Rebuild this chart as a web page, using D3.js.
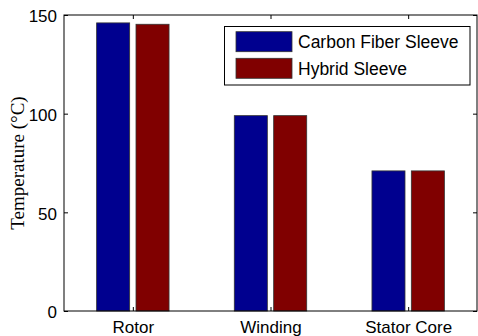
<!DOCTYPE html>
<html>
<head>
<meta charset="utf-8">
<script src="https://cdn.jsdelivr.net/npm/d3@7"></script>
<style>
  html, body { margin: 0; padding: 0; background: #fff; }
  svg { display: block; }
</style>
</head>
<body>
<svg id="chart" width="478" height="336"></svg>
<script>
// Steady-state temperatures per machine component for two sleeve designs
const categories = ["Rotor", "Winding", "Stator Core"];
const seriesNames = ["Carbon Fiber Sleeve", "Hybrid Sleeve"];
const carbonFiber = [146, 99, 71];
const hybrid = [145.3, 99, 71];
const yTicks = [0, 50, 100, 150];
const colors = ["#00008f", "#800000"];

const svg = d3.select("#chart");
const plotL = 64, plotR = 477, plotT = 15, plotB = 311;

// Category positions 1..3 with half-unit margins on each side
const x = d3.scaleLinear().domain([0.5, 3.5]).range([plotL, plotR]);
const y = d3.scaleLinear().domain([0, 150]).range([plotB, plotT]);

const series = [carbonFiber, hybrid];
const barW = 0.24;
const offsets = [-0.143, 0.143];

const g = svg.append("g");
series.forEach((vals, si) => {
  g.selectAll(null)
    .data(vals)
    .enter()
    .append("rect")
    .attr("x", (d, i) => x(i + 1 + offsets[si] - barW / 2))
    .attr("width", x(1 + barW) - x(1))
    .attr("y", d => y(d))
    .attr("height", d => y(0) - y(d))
    .attr("fill", colors[si])
    .attr("stroke", "#333")
    .attr("stroke-width", 0.8);
});

// Axes with inward ticks on all four sides
const tickLen = 4;
const font = "'Liberation Sans', Arial, sans-serif";

const xBottom = d3.axisBottom(x).tickValues([1, 2, 3])
  .tickSize(-tickLen).tickFormat((d) => categories[d - 1]);
const xTop = d3.axisTop(x).tickValues([1, 2, 3]).tickSize(-tickLen).tickFormat("");
const yLeft = d3.axisLeft(y).tickValues(yTicks).tickSize(-tickLen);
const yRight = d3.axisRight(y).tickValues(yTicks).tickSize(-tickLen).tickFormat("");

function style(sel) {
  sel.select(".domain").remove();
  sel.selectAll(".tick line").attr("stroke", "#000").attr("stroke-width", 1);
  sel.selectAll(".tick text").attr("fill", "#000")
    .style("font-family", font).style("font-size", "17px");
}

svg.append("g").attr("transform", `translate(0,${plotB})`).call(xBottom).call(style)
  .selectAll(".tick text").attr("y", 10).attr("dy", "0.71em");
svg.append("g").attr("transform", `translate(0,${plotT})`).call(xTop).call(style);
svg.append("g").attr("transform", `translate(${plotL},0)`).call(yLeft).call(style)
  .selectAll(".tick text").attr("x", -7).attr("dy", "0.4em");
svg.append("g").attr("transform", `translate(${plotR},0)`).call(yRight).call(style);

// Plot frame
svg.append("rect")
  .attr("x", plotL).attr("y", plotT)
  .attr("width", plotR - plotL).attr("height", plotB - plotT)
  .attr("fill", "none").attr("stroke", "#000").attr("stroke-width", 1);

// Y axis title
svg.append("text")
  .attr("transform", `translate(24,${(plotT + plotB) / 2}) rotate(-90)`)
  .attr("text-anchor", "middle")
  .style("font-family", "'Liberation Serif', 'Times New Roman', serif")
  .style("font-size", "19px")
  .text("Temperature (°C)");

// Legend
const leg = svg.append("g");
leg.append("rect")
  .attr("x", 224.5).attr("y", 26.5).attr("width", 245.5).attr("height", 58.5)
  .attr("fill", "#fff").attr("stroke", "#000").attr("stroke-width", 1);
seriesNames.forEach((name, i) => {
  const cy = 41.7 + i * 26.6;
  leg.append("rect")
    .attr("x", 236).attr("y", cy - 10).attr("width", 56).attr("height", 20)
    .attr("fill", colors[i]).attr("stroke", "#333").attr("stroke-width", 0.8);
  leg.append("text")
    .attr("x", 298).attr("y", cy).attr("dy", "0.36em")
    .style("font-family", font).style("font-size", "17.5px")
    .text(name);
});
</script>
</body>
</html>
